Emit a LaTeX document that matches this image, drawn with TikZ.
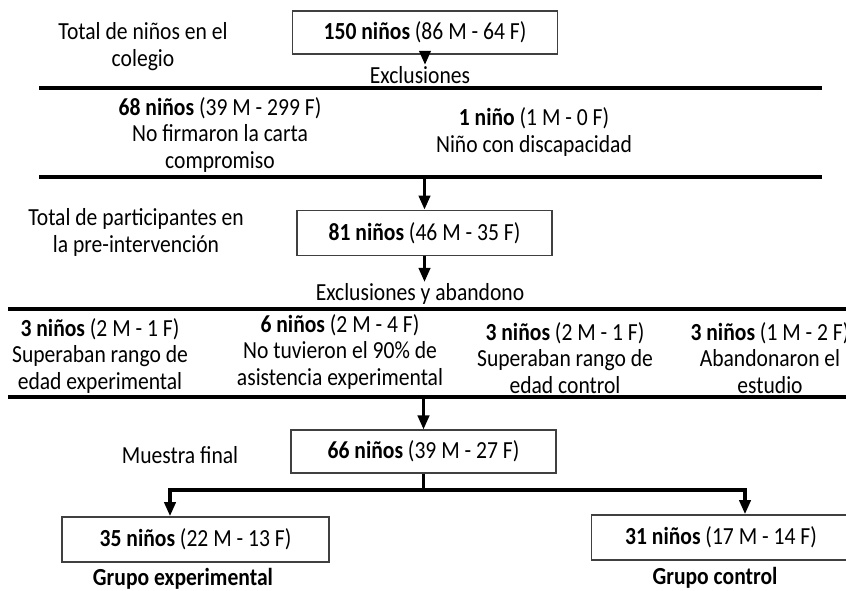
\documentclass[tikz,border=0pt]{standalone}
\usepackage{fontspec}
\setmainfont{Carlito}[FakeStretch=0.88]
\usetikzlibrary{arrows.meta}

\begin{document}
\begin{tikzpicture}[x=0.75pt,y=-0.75pt,
    txt/.style={align=center, inner sep=1pt, text=black, font=\fontsize{18.4}{20}\selectfont},
    box/.style={txt, draw=black!75, line width=1.1pt, inner sep=0pt},
    rule/.style={line width=2.3pt, black},
    flow/.style={rule, -{Triangle[length=10.5pt,width=8.5pt]}}]

    \useasboundingbox (0,0) rectangle (846,591);

    % Boxes of the flow
    \node[box, minimum width=199pt, minimum height=32pt] (total) at (425,32.5) {\textbf{150 niños} (86 M - 64 F)};
    \node[box, minimum width=191pt, minimum height=34pt] (pre) at (424.5,233) {\textbf{81 niños} (46 M - 35 F)};
    \node[box, minimum width=199pt, minimum height=32pt] (final) at (423.5,451.5) {\textbf{66 niños} (39 M - 27 F)};
    \node[box, minimum width=200pt, minimum height=34pt] (exper) at (195.5,539.5) {\textbf{35 niños} (22 M - 13 F)};
    \node[box, minimum width=194pt, minimum height=34pt] (contr) at (721,537.5) {\textbf{31 niños} (17 M - 14 F)};

    % Labels beside the boxes
    \node[txt] (lbltotal) at (143,46.5) {Total de niños en el\\colegio};
    \node[txt] (lblpre) at (136,232.5) {Total de participantes en\\la pre-intervención};
    \node[txt] (lblfinal) at (180,455) {Muestra final};
    \node[txt] (lblexper) at (183,579) {\textbf{Grupo experimental}};
    \node[txt] (lblcontr) at (715,578) {\textbf{Grupo control}};

    % Headings of the exclusions
    \node[txt] (excl) at (420,75) {Exclusiones};
    \node[txt] (abandono) at (420,294) {Exclusiones y abandono};

    % Draw the rules
    \draw[rule] (39,88) -- (822,88);
    \draw[rule] (39,177) -- (822,177);
    \draw[rule] (8,309) -- (846,309);
    \draw[rule] (8,397) -- (846,397);
    \coordinate (rule2) at (424,177);
    \coordinate (rule4) at (424,397);

    % First exclusions
    \foreach \Point/\Name/\Text in {(220,135)/carta/{\textbf{68 niños} (39 M - 299 F)\\No firmaron la carta\\compromiso},
        (534,132)/disc/{\textbf{1 niño} (1 M - 0 F)\\Niño con discapacidad}}
    \node[txt] (\Name) at \Point {\Text};

    % Exclusions and drop-outs
    \foreach \Point/\Name/\Text in {(100,356)/rangoexp/{\textbf{3 niños} (2 M - 1 F)\\Superaban rango de\\edad experimental},
        (340,352)/asist/{\textbf{6 niños} (2 M - 4 F)\\No tuvieron el 90\% de\\asistencia experimental},
        (565,358)/rangocon/{\textbf{3 niños} (2 M - 1 F)\\Superaban rango de\\edad control},
        (770,358)/aband/{\textbf{3 niños} (1 M - 2 F)\\Abandonaron el\\estudio}}
    \node[txt] (\Name) at \Point {\Text};

    % Draw the arrows
    \draw[flow] (total.south) -- (total.south |- excl.north);
    \draw[flow] (pre.north |- rule2) -- (pre.north);
    \draw[flow] (pre.south) -- (pre.south |- abandono.north);
    \draw[flow] (final.north |- rule4) -- (final.north);

    % Split into the two groups
    \coordinate (lft) at (170,490);
    \coordinate (rgt) at (745,490);
    \coordinate (split) at (final.south |- lft);
    \draw[rule] (final.south) -- (split);
    \draw[flow] (split) -| (exper.north -| lft);
    \draw[flow] (split) -| (contr.north -| rgt);

  \end{tikzpicture}
\end{document}
